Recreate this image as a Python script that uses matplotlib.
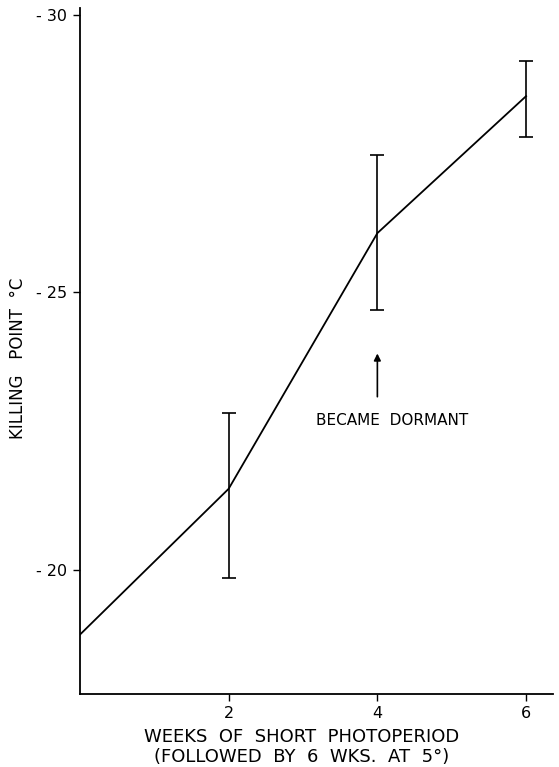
import matplotlib
matplotlib.use("Agg")
import matplotlib.pyplot as plt

# weeks of short photoperiod vs killing point (deg C)
weeks = [0, 2, 4, 6]
killing_point = [-18.83, -21.46, -26.07, -28.54]
err_upper = [None, -22.83, -27.47, -29.17]   # colder end of bar
err_lower = [None, -19.86, -24.69, -27.80]   # warmer end of bar

xticks = [2, 4, 6]
yticks = [-30, -25, -20]
ytick_labels = ['- 30', '- 25', '- 20']

plt.rcParams['font.family'] = 'DejaVu Sans'

fig = plt.figure(figsize=(5.59, 7.67), dpi=100)
ax = fig.add_axes([0.143, 0.0952, 0.846, 0.8944])

ax.plot(weeks, killing_point, color='black', lw=1.3)

# error bars only where measured
ex = [w for w, u in zip(weeks, err_upper) if u is not None]
ey = [k for k, u in zip(killing_point, err_upper) if u is not None]
up = [k - u for k, u in zip(killing_point, err_upper) if u is not None]
lo = [l - k for k, l in zip(killing_point, err_lower) if l is not None]
ax.errorbar(ex, ey, yerr=[up, lo], fmt='none',
            ecolor='black', elinewidth=1.2, capsize=5, capthick=1.2)

ax.set_xlim(0, 6.36)
ax.set_ylim(-17.76, -30.13)
ax.set_xticks(xticks)
ax.set_xticklabels([str(t) for t in xticks])
ax.set_yticks(yticks)
ax.set_yticklabels(ytick_labels)

for side in ['top', 'right']:
    ax.spines[side].set_visible(False)
for side in ['left', 'bottom']:
    ax.spines[side].set_linewidth(1.3)
ax.tick_params(direction='out', length=5, width=1, labelsize=11.5, pad=4)

ax.annotate('', xy=(4, -23.95), xytext=(4, -23.07),
            arrowprops=dict(arrowstyle='-|>', color='black', lw=1.2,
                            mutation_scale=10))
ax.text(4.2, -22.69, 'BECAME  DORMANT', ha='center', va='center', fontsize=11)

ax.set_ylabel('KILLING   POINT  °C', fontsize=12, va='center')
ax.yaxis.set_label_coords(-0.131, 0.49)
fig.text(0.54, 0.039, 'WEEKS  OF  SHORT  PHOTOPERIOD', ha='center',
         va='center', fontsize=13)
fig.text(0.54, 0.013, '(FOLLOWED  BY  6  WKS.  AT  5°)', ha='center',
         va='center', fontsize=13)

fig.savefig('out.png', dpi=100)
